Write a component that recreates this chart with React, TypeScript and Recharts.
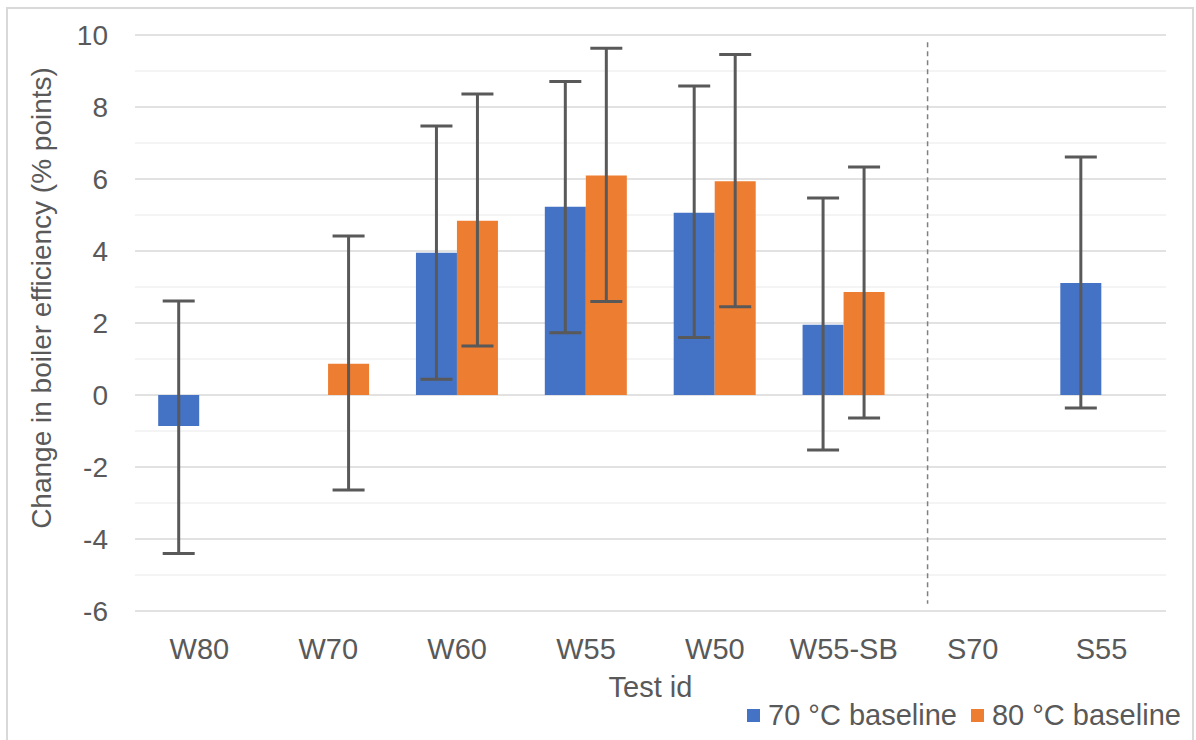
import React from 'react';
import { BarChart, Bar, XAxis, YAxis, CartesianGrid, ErrorBar, ReferenceLine, Legend } from 'recharts';

const categories = ['W80', 'W70', 'W60', 'W55', 'W50', 'W55-SB', 'S70', 'S55'];
const baseline70 = [-0.86, null, 3.95, 5.23, 5.06, 1.95, null, 3.11];
const baseline80 = [null, 0.87, 4.84, 6.1, 5.94, 2.86, null, null];
const err70Low = [3.54, null, 3.51, 3.5, 3.46, 3.48, null, 3.47];
const err70High = [3.47, null, 3.52, 3.48, 3.52, 3.52, null, 3.5];
const err80Low = [null, 3.51, 3.48, 3.5, 3.49, 3.5, null, null];
const err80High = [null, 3.55, 3.52, 3.53, 3.52, 3.47, null, null];
const yTicks = [-6, -4, -2, 0, 2, 4, 6, 8, 10];
const minorGrid = [-5, -3, -1, 1, 3, 5, 7, 9];
// separator position in category-index units (W55-SB = 5, S70 = 6)
const separatorX = 5.65;

const data = categories.map((c, i) => ({
  name: c,
  idx: i,
  b70: baseline70[i],
  b80: baseline80[i],
  e70: baseline70[i] == null ? null : [err70Low[i], err70High[i]],
  e80: baseline80[i] == null ? null : [err80Low[i], err80High[i]],
}));

const FONT = "'Liberation Sans', Arial, sans-serif";
const TEXT = '#595959';

const renderLegend = (props: any) => {
  const { payload } = props;
  return (
    <div style={{ display: 'flex', alignItems: 'center', fontFamily: FONT, fontSize: 29, color: TEXT, whiteSpace: 'nowrap' }}>
      {(payload || []).map((p: any, i: number) => (
        <span key={i} style={{ display: 'inline-flex', alignItems: 'center', marginRight: 14 }}>
          <span style={{ width: 13, height: 13, background: p.color, marginRight: 8, display: 'inline-block' }} />
          {p.value}
        </span>
      ))}
    </div>
  );
};

export default function App() {
  return (
    <div style={{ position: 'absolute', left: 0, top: 0, width: 1196, height: 740, background: '#fff' }}>
      <div style={{ position: 'absolute', left: 6, top: 7, width: 1188, height: 740, border: '2px solid #d9d9d9', boxSizing: 'border-box' }} />
      <BarChart
        width={1196}
        height={740}
        data={data}
        margin={{ top: 35, right: 30, bottom: 0, left: 0 }}
        barCategoryGap="18%"
        barGap={0}
        style={{ position: 'absolute', left: 0, top: 0 }}
      >
        <CartesianGrid vertical={false} horizontalValues={minorGrid} stroke="#f0f0f0" strokeWidth={1.5} />
        <CartesianGrid vertical={false} horizontalValues={yTicks} stroke="#d9d9d9" strokeWidth={1.5} />
        <XAxis
          dataKey="name"
          axisLine={false}
          tickLine={false}
          tickSize={0}
          tickMargin={27}
          height={90}
          interval={0}
          tick={{ fill: TEXT, fontSize: 29, fontFamily: FONT }}
          label={{ value: 'Test id', position: 'insideBottom', offset: 4, fill: TEXT, fontSize: 29, fontFamily: FONT }}
        />
        <XAxis xAxisId="pos" dataKey="idx" type="number" domain={[-0.5, 7.5]} allowDataOverflow hide />
        <YAxis
          domain={[-6, 10]}
          ticks={yTicks}
          width={135}
          axisLine={false}
          tickLine={false}
          tickSize={0}
          tickMargin={27}
          interval={0}
          tick={{ fill: TEXT, fontSize: 28, fontFamily: FONT }}
          label={{ value: 'Change in boiler efficiency (% points)', angle: -90, position: 'center', dx: -26, dy: -25, fill: TEXT, fontSize: 28, fontFamily: FONT }}
        />
        <ReferenceLine
          xAxisId="pos"
          segment={[{ x: separatorX, y: 9.8 }, { x: separatorX, y: -5.8 }]}
          stroke="#808080"
          strokeWidth={1.5}
          strokeDasharray="5 4"
        />
        <Bar dataKey="b70" name="70 °C baseline" fill="#4472C4" isAnimationActive={false}>
          <ErrorBar dataKey="e70" width={16} stroke="#595959" strokeWidth={3} direction="y" />
        </Bar>
        <Bar dataKey="b80" name="80 °C baseline" fill="#ED7D31" isAnimationActive={false}>
          <ErrorBar dataKey="e80" width={16} stroke="#595959" strokeWidth={3} direction="y" />
        </Bar>
        <Legend
          verticalAlign="bottom"
          content={renderLegend}
          wrapperStyle={{ left: 747, top: 699, width: 460, height: 39 }}
        />
      </BarChart>
    </div>
  );
}
